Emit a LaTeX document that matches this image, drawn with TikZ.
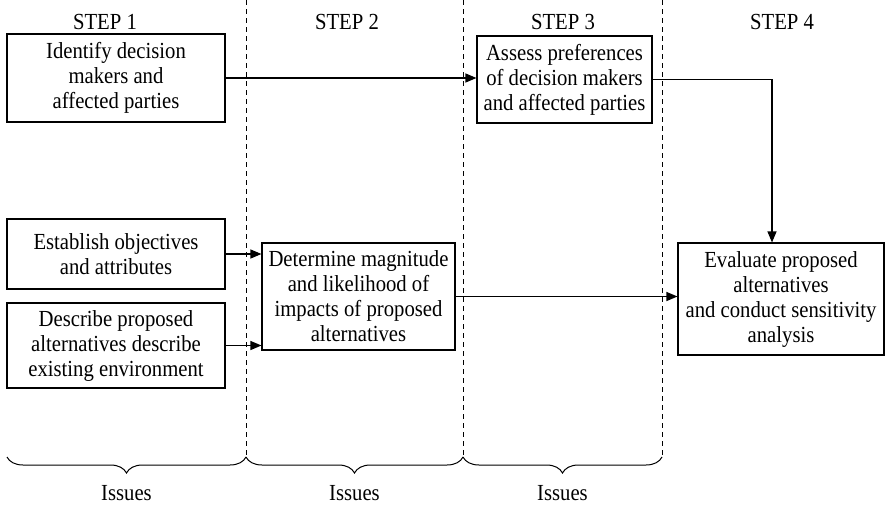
\documentclass[tikz,border=0pt]{standalone}
\usepackage{fontspec}
\setmainfont[FakeStretch=0.9]{Liberation Serif}
\usetikzlibrary{arrows.meta,decorations.pathreplacing}
\begin{document}
\begin{tikzpicture}[x=1pt,y=-1pt,
  every node/.style={font=\fontsize{23}{25}\selectfont},
  box/.style={draw,line width=1.1pt,align=center,inner sep=0pt},
  flow/.style={line width=1.1pt,-{Triangle[length=11pt,width=9pt]}},
  divider/.style={line width=0.9pt,dash pattern=on 5pt off 4pt},
  issuebrace/.style={line width=1pt,decorate,decoration={brace,mirror,amplitude=16pt}},
  steplabel/.style={anchor=base}]
\useasboundingbox (0,0) rectangle (885,506);

% column dividers
\coordinate (d1t) at (246,0);   \coordinate (d1b) at (246,457);
\coordinate (d2t) at (463,0);   \coordinate (d2b) at (463,457);
\coordinate (d3t) at (662,0);   \coordinate (d3b) at (662,457);
\draw[divider] (d1t) -- (d1b);
\draw[divider] (d2t) -- (d2b);
\draw[divider] (d3t) -- (d3b);

% column headings
\node[steplabel] (s1) at (105,29) {STEP 1};
\node[steplabel] (s2) at (347,29) {STEP 2};
\node[steplabel] (s3) at (563,29) {STEP 3};
\node[steplabel] (s4) at (782,29) {STEP 4};

% boxes
\node[box,minimum width=218pt,minimum height=88pt] (ident) at (116,78)
  {Identify decision\\makers and\\affected parties};
\node[box,minimum width=218pt,minimum height=70pt] (establish) at (116,254)
  {Establish objectives\\and attributes};
\node[box,minimum width=218pt,minimum height=85pt] (describe) at (116,345.5)
  {Describe proposed\\alternatives describe\\existing environment};
\node[box,minimum width=193pt,minimum height=107pt] (determine) at (358.5,296.5)
  {Determine magnitude\\and likelihood of\\impacts of proposed\\alternatives};
\node[box,minimum width=175pt,minimum height=87pt] (assess) at (564.5,79.5)
  {Assess preferences\\of decision makers\\and affected parties};
\node[box,minimum width=206pt,minimum height=112pt] (evaluate) at (781,299)
  {Evaluate proposed\\alternatives\\and conduct sensitivity\\analysis};

% connectors
\coordinate (drop) at ([xshift=-9pt]evaluate.north);
\draw[flow] (ident.east) -- (ident.east -| assess.west);
\draw[flow] (assess.east) -| (drop);
\draw[flow] (establish.east) -- (establish.east -| determine.west);
\draw[flow] (describe.east) -- (describe.east -| determine.west);
\draw[flow] (determine.east) -- (determine.east -| evaluate.west);

% issue braces
\coordinate (b0) at (7,457);
\draw[issuebrace] (b0) -- (d1b);
\draw[issuebrace] (d1b) -- (d2b);
\draw[issuebrace] (d2b) -- (d3b);
\node[steplabel] (i1) at (126.5,500) {Issues};
\node[steplabel] (i2) at (354.5,500) {Issues};
\node[steplabel] (i3) at (562.5,500) {Issues};
\end{tikzpicture}
\end{document}
